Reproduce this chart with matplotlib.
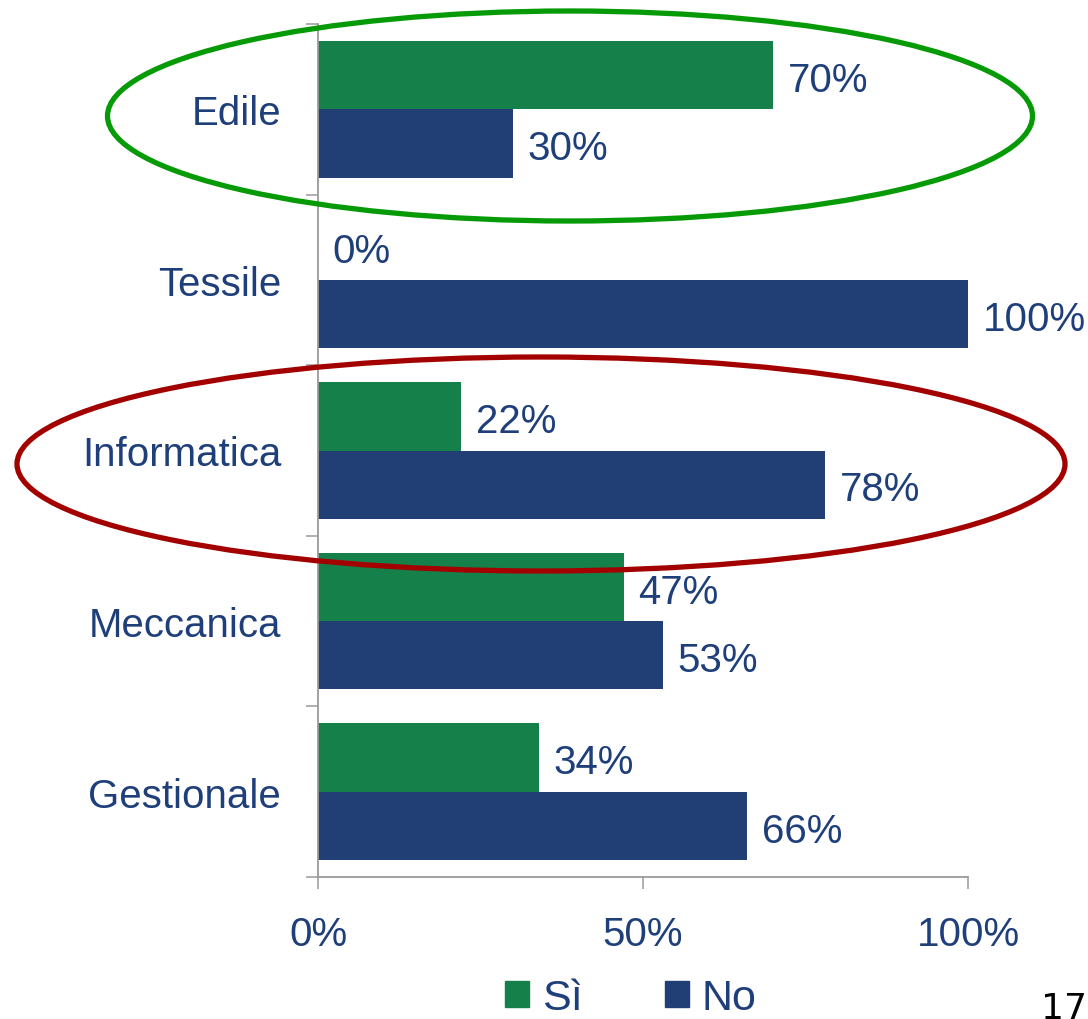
import matplotlib
matplotlib.use("Agg")
import matplotlib.pyplot as plt
from matplotlib.patches import Ellipse, Patch
from matplotlib.ticker import FixedLocator
import numpy as np

categories = ["Edile", "Tessile", "Informatica", "Meccanica", "Gestionale"]
si = [70, 0, 22, 47, 34]
no = [30, 100, 78, 53, 66]
xticks = [0, 50, 100]
xticklabels = ["0%", "50%", "100%"]
series_names = ["Sì", "No"]
page_number = "17"

GREEN = "#16804A"
BLUE = "#213F75"
TEXT = "#1F3F7A"
GRAY = "#9A9A9A"
FS = 29

plt.rcParams['font.family'] = ['Liberation Sans', 'DejaVu Sans']

W, H = 1088, 1020
fig = plt.figure(figsize=(W / 100, H / 100), dpi=100)
ax = fig.add_axes([318 / W, 1 - 878 / H, 650 / W, 853 / H])

y = np.arange(len(categories))
h = 0.4
b1 = ax.barh(y - h / 2, si, height=h, color=GREEN, label=series_names[0])
b2 = ax.barh(y + h / 2, no, height=h, color=BLUE, label=series_names[1])

for bars, vals in ((b1, si), (b2, no)):
    for rect, v in zip(bars, vals):
        ax.annotate(f"{v}%", xy=(rect.get_width(), rect.get_y() + rect.get_height() / 2),
                    xytext=(10.5, -3.5), textcoords="offset points",
                    va="center", ha="left", fontsize=FS, color=TEXT)

ax.set_xlim(0, 100)
ax.set_ylim(len(categories) - 0.5, -0.5)

ax.set_xticks(xticks)
ax.set_xticklabels(xticklabels, fontsize=FS, color=TEXT)
ax.tick_params(axis="x", direction="out", length=8.6, width=1.1, color=GRAY, pad=18.5)

ax.set_yticks(y)
ax.set_yticklabels(categories, fontsize=FS, color=TEXT)
ax.tick_params(axis="y", which="major", length=0, pad=26.5)
ax.yaxis.set_minor_locator(FixedLocator(np.arange(-0.5, len(categories), 1.0)))
ax.tick_params(axis="y", which="minor", direction="out", length=8.6, width=1.1, color=GRAY)

for s in ("top", "right"):
    ax.spines[s].set_visible(False)
for s in ("left", "bottom"):
    ax.spines[s].set_color(GRAY)
    ax.spines[s].set_linewidth(1.3)

# highlight ellipses
e1 = Ellipse((570 / W, 1 - 117 / H), 925 / W, 210 / H, transform=fig.transFigure,
             fill=False, edgecolor="#069A06", lw=3.8, zorder=10, clip_on=False)
e2 = Ellipse((541 / W, 1 - 465 / H), 1048 / W, 214 / H, transform=fig.transFigure,
             fill=False, edgecolor="#A30000", lw=3.8, zorder=10, clip_on=False)
fig.add_artist(e1)
fig.add_artist(e2)

fig.legend(handles=[Patch(color=GREEN), Patch(color=BLUE)], labels=series_names,
           loc="center", bbox_to_anchor=(631 / W, 1 - 999 / H), ncol=2, frameon=False,
           handlelength=0.56, handleheight=0.56, handletextpad=0.3, columnspacing=1.9,
           fontsize=31, labelcolor=TEXT, borderaxespad=0, borderpad=0)

fig.text(1087 / W, 1 - 1019 / H, page_number, ha="right", va="baseline",
         fontsize=26, family="DejaVu Sans", color="black")

fig.savefig("out.png", dpi=100)
